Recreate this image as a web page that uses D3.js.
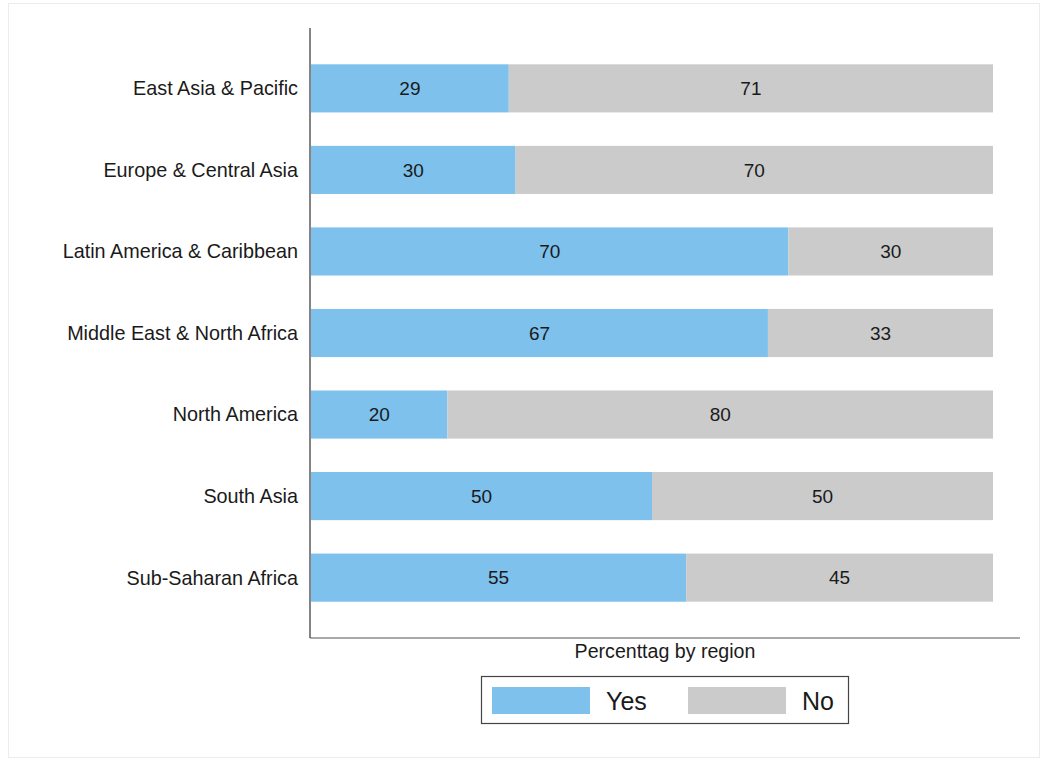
<!DOCTYPE html>
<html>
<head>
<meta charset="utf-8">
<script src="https://cdn.jsdelivr.net/npm/d3@7"></script>
<style>
  body { margin: 0; background: #fff; }
  text { font-family: "Liberation Sans", Arial, sans-serif; fill: #1a1a1a; }
</style>
</head>
<body>
<script>
// Data
let regions = ["East Asia & Pacific", "Europe & Central Asia", "Latin America & Caribbean",
  "Middle East & North Africa", "North America", "South Asia", "Sub-Saharan Africa"];
let yesValues = [29, 30, 70, 67, 20, 50, 55];
let noValues = [71, 70, 30, 33, 80, 50, 45];
let seriesNames = ["Yes", "No"];
let seriesColors = ["#7dc1ec", "#cbcbcb"];

let width = 1047, height = 761;
let svg = d3.select("body").append("svg")
  .attr("width", width).attr("height", height);

// faint outer frame
svg.append("rect")
  .attr("x", 8.5).attr("y", 3.5).attr("width", 1031).attr("height", 754)
  .attr("fill", "none").attr("stroke", "#ececec");

// Scales
let x = d3.scaleLinear().domain([0, 100]).range([311, 993]);
let y = d3.scaleBand().domain(regions).range([48, 618]).paddingInner(0.41).paddingOuter(0.2);

let rows = regions.map((r, i) => ({ region: r, yes: yesValues[i], no: noValues[i] }));
let stack = d3.stack().keys(["yes", "no"])(rows);

// Bars
let layers = svg.selectAll("g.layer").data(stack).enter().append("g")
  .attr("class", "layer")
  .attr("fill", (d, i) => seriesColors[i]);

layers.selectAll("rect").data(d => d).enter().append("rect")
  .attr("x", d => x(d[0]))
  .attr("y", d => y(d.data.region))
  .attr("width", d => x(d[1]) - x(d[0]))
  .attr("height", y.bandwidth());

// Value labels
layers.selectAll("text").data(d => d).enter().append("text")
  .attr("x", d => (x(d[0]) + x(d[1])) / 2)
  .attr("y", d => y(d.data.region) + y.bandwidth() / 2)
  .attr("dy", "0.35em")
  .attr("text-anchor", "middle")
  .attr("font-size", 19)
  .text(d => d[1] - d[0]);

// Axes
svg.append("line").attr("x1", 310).attr("x2", 310).attr("y1", 28).attr("y2", 638)
  .attr("stroke", "#333").attr("stroke-width", 1.2);
svg.append("line").attr("x1", 310).attr("x2", 1020).attr("y1", 638).attr("y2", 638)
  .attr("stroke", "#555").attr("stroke-width", 1.2);

// Category labels
svg.selectAll("text.cat").data(regions).enter().append("text")
  .attr("class", "cat")
  .attr("x", 298)
  .attr("y", d => y(d) + y.bandwidth() / 2)
  .attr("dy", "0.35em")
  .attr("text-anchor", "end")
  .attr("font-size", 19.8)
  .text(d => d);

// Axis title
svg.append("text")
  .attr("x", 665).attr("y", 658)
  .attr("text-anchor", "middle")
  .attr("font-size", 19.6)
  .text("Percenttag by region");

// Legend
let legend = svg.append("g");
legend.append("rect")
  .attr("x", 481.5).attr("y", 676.5).attr("width", 367).attr("height", 47)
  .attr("fill", "#fff").attr("stroke", "#444").attr("stroke-width", 1.2);
let items = legend.selectAll("g.item").data(seriesNames).enter().append("g")
  .attr("class", "item")
  .attr("transform", (d, i) => `translate(${492 + i * 196},687)`);
items.append("rect")
  .attr("width", 98).attr("height", 27)
  .attr("fill", (d, i) => seriesColors[i]);
items.append("text")
  .attr("x", 114)
  .attr("y", 14)
  .attr("dy", "0.35em")
  .attr("font-size", 25)
  .text(d => d);
</script>
</body>
</html>
